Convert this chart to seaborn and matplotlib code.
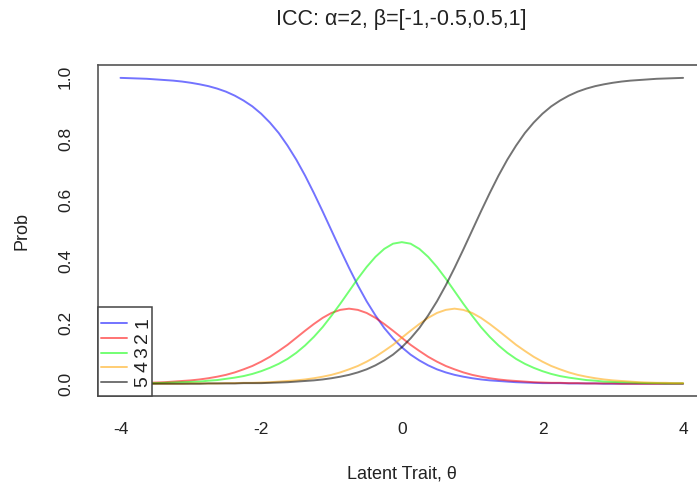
import numpy as np
import pandas as pd
import matplotlib
matplotlib.use("Agg")
import matplotlib.pyplot as plt
from matplotlib.lines import Line2D
from matplotlib.patches import Rectangle
import seaborn as sns

theta = [-4.0 + 0.125 * i for i in range(65)]  # grid of theta positions read along the x axis
cat1 = [0.998, 0.997, 0.996, 0.995, 0.993, 0.991, 0.989, 0.986, 0.982, 0.977,
        0.971, 0.963, 0.953, 0.940, 0.924, 0.905, 0.881, 0.852, 0.818, 0.777,
        0.731, 0.679, 0.622, 0.562, 0.500, 0.438, 0.378, 0.321, 0.269, 0.223,
        0.182, 0.148, 0.119, 0.095, 0.076, 0.060, 0.047, 0.037, 0.029, 0.023,
        0.018, 0.014, 0.011, 0.009, 0.007, 0.005, 0.004, 0.003, 0.002, 0.002,
        0.002, 0.001, 0.001, 0.001, 0.001, 0.000, 0.000, 0.000, 0.000, 0.000,
        0.000, 0.000, 0.000, 0.000, 0.000]
cat2 = [0.002, 0.002, 0.003, 0.003, 0.004, 0.005, 0.007, 0.009, 0.011, 0.014,
        0.018, 0.023, 0.029, 0.037, 0.047, 0.058, 0.072, 0.088, 0.107, 0.127,
        0.150, 0.173, 0.195, 0.215, 0.231, 0.241, 0.245, 0.241, 0.231, 0.215,
        0.195, 0.173, 0.150, 0.127, 0.107, 0.088, 0.072, 0.058, 0.047, 0.037,
        0.029, 0.023, 0.018, 0.014, 0.011, 0.009, 0.007, 0.005, 0.004, 0.003,
        0.003, 0.002, 0.002, 0.001, 0.001, 0.001, 0.001, 0.000, 0.000, 0.000,
        0.000, 0.000, 0.000, 0.000, 0.000]
cat3 = [0.001, 0.001, 0.001, 0.002, 0.002, 0.003, 0.004, 0.005, 0.006, 0.007,
        0.010, 0.012, 0.016, 0.020, 0.025, 0.032, 0.041, 0.052, 0.065, 0.081,
        0.101, 0.125, 0.153, 0.185, 0.222, 0.261, 0.302, 0.343, 0.381, 0.414,
        0.440, 0.457, 0.462, 0.457, 0.440, 0.414, 0.381, 0.343, 0.302, 0.261,
        0.222, 0.185, 0.153, 0.125, 0.101, 0.081, 0.065, 0.052, 0.041, 0.032,
        0.025, 0.020, 0.016, 0.012, 0.010, 0.007, 0.006, 0.005, 0.004, 0.003,
        0.002, 0.002, 0.001, 0.001, 0.001]
cat4 = [0.000, 0.000, 0.000, 0.000, 0.000, 0.000, 0.000, 0.000, 0.001, 0.001,
        0.001, 0.001, 0.002, 0.002, 0.003, 0.003, 0.004, 0.005, 0.007, 0.009,
        0.011, 0.014, 0.018, 0.023, 0.029, 0.037, 0.047, 0.058, 0.072, 0.088,
        0.107, 0.127, 0.150, 0.173, 0.195, 0.215, 0.231, 0.241, 0.245, 0.241,
        0.231, 0.215, 0.195, 0.173, 0.150, 0.127, 0.107, 0.088, 0.072, 0.058,
        0.047, 0.037, 0.029, 0.023, 0.018, 0.014, 0.011, 0.009, 0.007, 0.005,
        0.004, 0.003, 0.003, 0.002, 0.002]
cat5 = [0.000, 0.000, 0.000, 0.000, 0.000, 0.000, 0.000, 0.000, 0.000, 0.000,
        0.001, 0.001, 0.001, 0.001, 0.002, 0.002, 0.002, 0.003, 0.004, 0.005,
        0.007, 0.009, 0.011, 0.014, 0.018, 0.023, 0.029, 0.037, 0.047, 0.060,
        0.076, 0.095, 0.119, 0.148, 0.182, 0.223, 0.269, 0.321, 0.378, 0.438,
        0.500, 0.562, 0.622, 0.679, 0.731, 0.777, 0.818, 0.852, 0.881, 0.905,
        0.924, 0.940, 0.953, 0.963, 0.971, 0.977, 0.982, 0.986, 0.989, 0.991,
        0.993, 0.995, 0.996, 0.997, 0.998]
categories = ["1", "2", "3", "4", "5"]
colors = ["#0000FF", "#FF0000", "#00FF00", "#FFA500", "#000000"]
x_ticks = [-4, -2, 0, 2, 4]
y_ticks = [0.0, 0.2, 0.4, 0.6, 0.8, 1.0]

rows = []
for name, vals in zip(categories, [cat1, cat2, cat3, cat4, cat5]):
    for t, v in zip(theta, vals):
        rows.append({"theta": t, "prob": v, "cat": name})
df = pd.DataFrame(rows)

sns.set_style("white")
plt.rcParams["font.family"] = ["Liberation Sans", "DejaVu Sans"]

W, H = 697, 486
fig = plt.figure(figsize=(W / 100, H / 100), dpi=100)
left, right, top, bottom = 98, 705.6, 65, 396
ax = fig.add_axes([left / W, (H - bottom) / H, (right - left) / W, (bottom - top) / H])

sns.lineplot(data=df, x="theta", y="prob", hue="cat", palette=dict(zip(categories, colors)),
             ax=ax, linewidth=1.4, alpha=0.55, legend=False)

ax.set_xlim(-4.32, 4.32)
ax.set_ylim(-0.04, 1.04)
ax.set_xticks(x_ticks)
ax.set_xticklabels([str(v) for v in x_ticks])
ax.set_yticks(y_ticks)
ax.set_yticklabels([f"{v:.1f}" for v in y_ticks], rotation=90, va="center")
ax.tick_params(axis="both", direction="out", length=7, width=1, color="#555555",
               labelsize=12.5, labelcolor="#222222")
ax.tick_params(axis="x", pad=12)
ax.tick_params(axis="y", pad=11)
for s in ax.spines.values():
    s.set_color("#555555")
    s.set_linewidth(1.2)

ax.set_xlabel("Latent Trait, θ", fontsize=13, color="#222222", labelpad=20)
ax.set_ylabel("Prob", fontsize=13, color="#222222", labelpad=20)
fig.text(401 / W, 1 - 20 / H, "ICC: α=2, β=[-1,-0.5,0.5,1]", ha="center", va="center",
         fontsize=15.5, color="#222222")

# legend box (R style, labels rotated)
def fx(px):
    return px / W

def fy(py):
    return 1 - py / H

fig.patches.append(Rectangle((fx(98), fy(396)), fx(152) - fx(98), fy(307) - fy(396),
                             transform=fig.transFigure, facecolor="white",
                             edgecolor="#444444", linewidth=1.1, zorder=5))
leg_y = [323, 338, 352.5, 367, 382]
for name, c, yy in zip(categories, colors, leg_y):
    fig.lines.append(Line2D([fx(101), fx(127)], [fy(yy), fy(yy)], transform=fig.transFigure,
                            color=c, alpha=0.55, linewidth=1.4, zorder=6))
    fig.text(fx(143), fy(yy), name, rotation=90, ha="center", va="center",
             fontsize=14, color="#222222", zorder=7)

fig.savefig("out.png", dpi=100)
